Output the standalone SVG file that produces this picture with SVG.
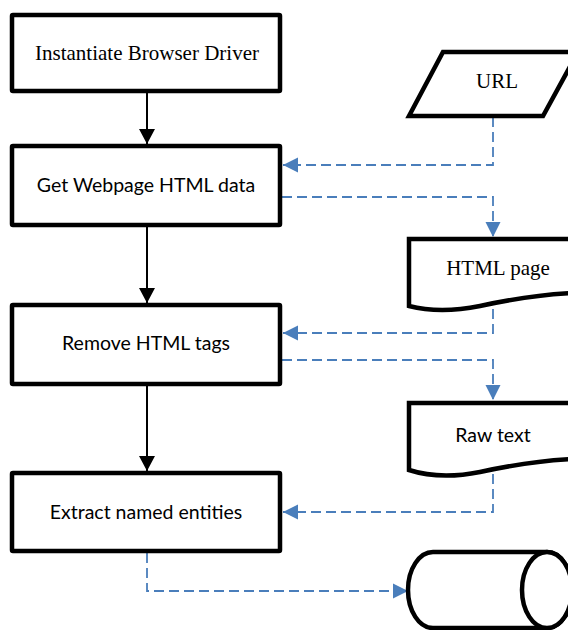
<svg xmlns="http://www.w3.org/2000/svg" width="568" height="630" viewBox="0 0 568 630">
<defs>
<style>
.box{fill:#fff;stroke:#000;stroke-width:4.5;stroke-linejoin:miter}
.serif{font-family:"Liberation Serif","Times New Roman",serif;font-size:21px;fill:#000;text-anchor:middle}
.sans{font-family:Lato,"Liberation Sans",sans-serif;font-size:19.5px;fill:#000;text-anchor:middle}
.flow{stroke:#000;stroke-width:2;fill:none}
.data{stroke:#4a7ebb;stroke-width:1.8;fill:none;stroke-dasharray:10,5}
</style>
<marker id="ab" markerUnits="userSpaceOnUse" markerWidth="18" markerHeight="16" refX="15" refY="8" orient="auto"><path d="M0,0 L15,8 L0,16 Z" fill="#000"/></marker>
<marker id="ablue" markerUnits="userSpaceOnUse" markerWidth="16" markerHeight="16" refX="15" refY="8" orient="auto"><path d="M0,0.5 L15,8 L0,15.5 Z" fill="#4a7ebb"/></marker>
</defs>
<g id="connectors">
<line class="flow" x1="147" y1="93" x2="147" y2="144" marker-end="url(#ab)"/>
<line class="flow" x1="147" y1="227" x2="147" y2="303" marker-end="url(#ab)"/>
<line class="flow" x1="147" y1="386" x2="147" y2="471" marker-end="url(#ab)"/>
<path class="data" d="M493,117 V165 H283" marker-end="url(#ablue)"/>
<path class="data" d="M282,197 H493 V237" marker-end="url(#ablue)"/>
<path class="data" d="M493,309 V333 H283" marker-end="url(#ablue)"/>
<path class="data" d="M282,360 H493 V400" marker-end="url(#ablue)"/>
<path class="data" d="M493,474 V512 H283" marker-end="url(#ablue)"/>
<path class="data" d="M147,553 V591 H408" marker-end="url(#ablue)"/>
</g>
<g id="n1"><rect class="box" x="12" y="15" width="268" height="76" rx="1"/><text class="serif" x="147" y="60">Instantiate Browser Driver</text></g>
<g id="n2"><rect class="box" x="12" y="146" width="268" height="79" rx="1"/><text class="sans" x="146" y="192">Get Webpage HTML data</text></g>
<g id="n3"><rect class="box" x="12" y="305" width="268" height="79" rx="1"/><text class="sans" x="146" y="350">Remove HTML tags</text></g>
<g id="n4"><rect class="box" x="12" y="473" width="268" height="78" rx="1"/><text class="sans" x="146" y="519">Extract named entities</text></g>
<g id="url"><path class="box" d="M443,52 H578 L543,116 H409 Z"/><text class="serif" x="497" y="88">URL</text></g>
<g id="html"><path class="box" d="M409,239 H575 V293 Q530,295 480,306 Q440,314 409,306 Z"/><text class="serif" x="498" y="275">HTML page</text></g>
<g id="raw"><path class="box" d="M409,403 H575 V459 Q530,461 480,472 Q440,480 409,470 Z"/><text class="sans" x="493" y="442">Raw text</text></g>
<g id="db"><path class="box" d="M433,552 H547 A25,38 0 0 1 547,628 H433 A25,38 0 0 1 433,552 Z"/><ellipse class="box" cx="547" cy="590" rx="25" ry="38"/></g>
</svg>
